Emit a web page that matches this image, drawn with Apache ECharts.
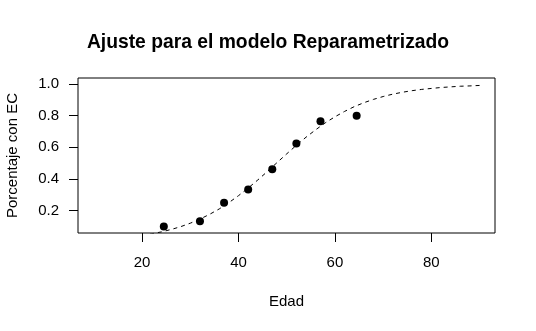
<!DOCTYPE html>
<html>
<head>
<meta charset="utf-8">
<script src="https://cdn.jsdelivr.net/npm/echarts@6/dist/echarts.min.js"></script>
<style>
  html, body { margin: 0; padding: 0; background: #fff; }
  #chart { width: 536px; height: 331px; }
</style>
</head>
<body>
<div id="chart"></div>
<script>
// observed proportions by age group
var edades = [24.5, 32, 37, 42, 47, 52, 57, 64.5];
var porcentajes = [0.1, 0.133, 0.25, 0.333, 0.462, 0.625, 0.765, 0.8];

// fitted curve
var curvaX = [20, 22, 24, 26, 28, 30, 32, 34, 36, 38, 40, 42, 44, 46, 48, 50, 52, 54, 56,
  58, 60, 62, 64, 66, 68, 70, 72, 74, 76, 78, 80, 82, 84, 86, 88, 90];
var curvaY = [0.044, 0.054, 0.066, 0.081, 0.099, 0.121, 0.147, 0.177, 0.211, 0.251, 0.295,
  0.343, 0.394, 0.448, 0.504, 0.559, 0.613, 0.664, 0.711, 0.755, 0.793, 0.827, 0.857, 0.882,
  0.903, 0.921, 0.936, 0.948, 0.958, 0.966, 0.972, 0.978, 0.982, 0.986, 0.988, 0.991];

var xTicks = [20, 40, 60, 80];
var yTicks = [0.2, 0.4, 0.6, 0.8, 1.0];

var font = 'Liberation Sans, Arial, sans-serif';

var myChart = echarts.init(document.getElementById('chart'));

var option = {
    backgroundColor: '#ffffff',
    animation: false,
    title: {
        text: 'Ajuste para el modelo Reparametrizado',
        left: 'center',
        top: 28,
        textStyle: { fontFamily: font, fontSize: 19.3, fontWeight: 'bold', color: '#000' }
    },
    grid: {
        left: 78, right: 41, top: 78, bottom: 98,
        outerBoundsMode: 'none',
        containLabel: false,
        show: true,
        borderColor: '#000',
        borderWidth: 1
    },
    xAxis: {
        type: 'value',
        min: 6.7,
        max: 93.2,
        name: 'Edad',
        nameLocation: 'middle',
        nameGap: 61,
        nameTextStyle: { fontFamily: font, fontSize: 15, color: '#000' },
        axisLine: { show: false },
        splitLine: { show: false },
        axisTick: {
            show: true, inside: false, length: 9,
            customValues: xTicks,
            lineStyle: { color: '#000', width: 1 }
        },
        axisLabel: {
            customValues: xTicks,
            margin: 22,
            fontFamily: font, fontSize: 15, color: '#000'
        }
    },
    yAxis: {
        type: 'value',
        min: 0.059,
        max: 1.038,
        name: 'Porcentaje con EC',
        nameLocation: 'middle',
        nameGap: 58,
        nameTextStyle: { fontFamily: font, fontSize: 15, color: '#000' },
        axisLine: { show: false },
        splitLine: { show: false },
        axisTick: {
            show: true, inside: false, length: 9,
            customValues: yTicks,
            lineStyle: { color: '#000', width: 1 }
        },
        axisLabel: {
            customValues: yTicks,
            margin: 19,
            fontFamily: font, fontSize: 15, color: '#000',
            formatter: function (v) { return v.toFixed(1); }
        }
    },
    series: [
        {
            type: 'line',
            data: curvaX.map(function (x, i) { return [x, curvaY[i]]; }),
            showSymbol: false,
            clip: true,
            lineStyle: { color: '#000', width: 1, type: [4, 4] }
        },
        {
            type: 'scatter',
            data: edades.map(function (x, i) { return [x, porcentajes[i]]; }),
            symbol: 'circle',
            symbolSize: 8,
            itemStyle: { color: '#000', opacity: 1 }
        }
    ]
};

myChart.setOption(option);
</script>
</body>
</html>
